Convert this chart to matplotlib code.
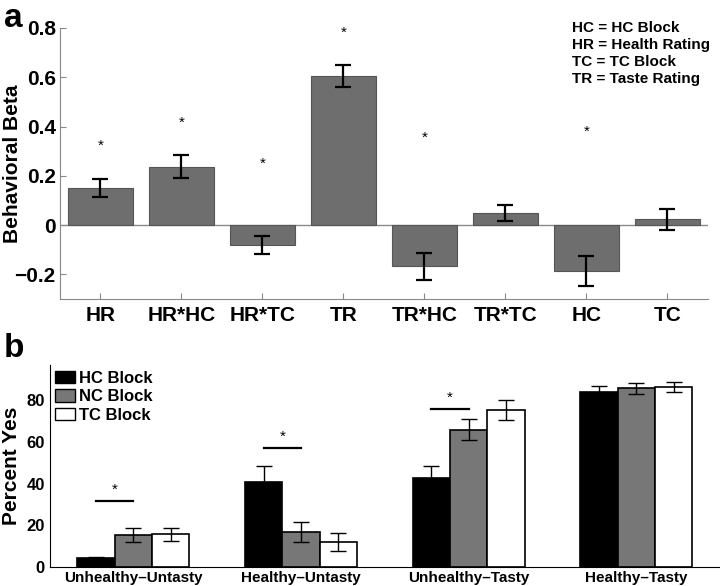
import numpy as np
import matplotlib.pyplot as plt
import matplotlib as mpl
from matplotlib.patches import Patch

# panel a: regression betas
beta_labels = ['HR', 'HR*HC', 'HR*TC', 'TR', 'TR*HC', 'TR*TC', 'HC', 'TC']
beta_vals = [0.149, 0.237, -0.081, 0.605, -0.168, 0.048, -0.187, 0.023]
beta_err = [0.037, 0.048, 0.038, 0.044, 0.056, 0.032, 0.060, 0.044]
star_idx = [0, 1, 2, 3, 4, 6]
star_y = [0.32, 0.415, 0.25, 0.78, 0.355, 0.38]
key_lines = ['HC = HC Block', 'HR = Health Rating', 'TC = TC Block',
             'TR = Taste Rating']

# panel b: percent yes per condition
groups = ['Unhealthy\u2013Untasty', 'Healthy\u2013Untasty',
          'Unhealthy\u2013Tasty', 'Healthy\u2013Tasty']
block_names = ['HC Block', 'NC Block', 'TC Block']
hc_vals = [4.0, 40.8, 42.7, 84.2]
nc_vals = [15.3, 16.9, 65.9, 85.8]
tc_vals = [15.6, 11.8, 75.6, 86.5]
hc_err = [0.5, 7.7, 5.8, 2.6]
nc_err = [3.5, 4.8, 5.1, 2.7]
tc_err = [3.2, 4.5, 4.8, 2.4]
sig_groups = [0, 1, 2]
sig_line_y = [31.7, 57.2, 75.7]

mpl.rc('font', family='Liberation Sans', weight='bold')
mpl.rc('axes', labelweight='bold')

fig = plt.figure(figsize=(7.2, 5.86), dpi=100)

# ---- panel a
ax = fig.add_axes([0.0833, 0.4898, 0.9, 0.4625])
x = np.arange(1, len(beta_labels) + 1)
ax.bar(x, beta_vals, width=0.8, color='#6e6e6e', edgecolor='#555555',
       linewidth=0.8, zorder=2)
ax.errorbar(x, beta_vals, yerr=beta_err, fmt='none', ecolor='black',
            elinewidth=1.6, capsize=6, capthick=1.6, zorder=3)
ax.axhline(0, color='#8a8a8a', linewidth=1, zorder=1)
for i, sy in zip(star_idx, star_y):
    ax.text(x[i], sy, '*', ha='center', va='center', fontsize=11,
            fontweight='normal')
ax.set_xlim(0.5, 8.5)
ax.set_ylim(-0.3, 0.8)
ax.set_yticks([-0.2, 0, 0.2, 0.4, 0.6, 0.8])
ax.set_yticklabels(['\u22120.2', '0', '0.2', '0.4', '0.6', '0.8'])
ax.set_xticks(x)
ax.set_xticklabels(beta_labels)
ax.tick_params(direction='in', length=4, color='#888888', labelsize=15)
ax.tick_params(axis='x', pad=5)
ax.tick_params(axis='y', pad=3)
for s in ['top', 'right']:
    ax.spines[s].set_visible(False)
for s in ['left', 'bottom']:
    ax.spines[s].set_color('#888888')
ax.set_ylabel('Behavioral Beta', fontsize=15, fontweight='bold')
ax.yaxis.set_label_coords(-0.059, 0.5)
fig.text(572 / 720, 1 - 21 / 586, '\n'.join(key_lines), ha='left',
         va='top', fontsize=11, linespacing=1.27)
fig.text(0.005, 0.995, 'a', fontsize=24, va='top', ha='left')

# ---- panel b
bx = fig.add_axes([0.0688, 0.033, 0.9312, 0.344])
g = np.arange(1, len(groups) + 1)
w = 0.223
colors = ['black', '#777777', 'white']
for k, (vals, errs) in enumerate([(hc_vals, hc_err), (nc_vals, nc_err),
                                  (tc_vals, tc_err)]):
    pos = g + (k - 1) * w
    bx.bar(pos, vals, width=w, color=colors[k], edgecolor='black',
           linewidth=1.2, zorder=2)
    bx.errorbar(pos, vals, yerr=errs, fmt='none', ecolor='black',
                elinewidth=1.0, capsize=6, capthick=1.0, zorder=3)
for gi, ly in zip(sig_groups, sig_line_y):
    bx.plot([g[gi] - w, g[gi]], [ly, ly], color='black', linewidth=1.6)
    bx.text(g[gi] - w / 2, ly + 2.0, '*', ha='center', va='bottom',
            fontsize=11, fontweight='normal')
bx.set_xlim(0.5, 4.5)
bx.set_ylim(0, 97)
bx.set_yticks([0, 20, 40, 60, 80])
bx.set_xticks(g)
bx.set_xticklabels(groups)
bx.tick_params(length=0, labelsize=12)
bx.tick_params(axis='x', labelsize=11, pad=3)
for s in ['top', 'right']:
    bx.spines[s].set_visible(False)
bx.set_ylabel('Percent Yes', fontsize=15, fontweight='bold')
bx.yaxis.set_label_coords(-0.042, 0.5)
handles = [Patch(facecolor=c, edgecolor='black', linewidth=1.0)
           for c in colors]
bx.legend(handles, block_names, loc='upper left',
          bbox_to_anchor=(0.008, 0.97), frameon=False, fontsize=12,
          handlelength=1.2, handleheight=0.76, handletextpad=0.25,
          labelspacing=0.2, borderpad=0.0, borderaxespad=0.0)
fig.text(0.005, 0.432, 'b', fontsize=24, va='top', ha='left')

fig.savefig('out.png', dpi=100)
